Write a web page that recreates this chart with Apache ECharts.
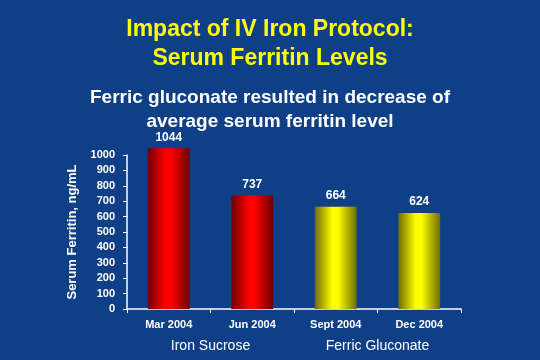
<!DOCTYPE html>
<html><head><meta charset="utf-8">
<script src="https://cdn.jsdelivr.net/npm/echarts@6/dist/echarts.min.js"></script>
<style>html,body{margin:0;padding:0;background:#0f4087;}#c{width:540px;height:360px;}</style>
</head><body><div id="c"></div>
<script>
const categories = ['Mar 2004', 'Jun 2004', 'Sept 2004', 'Dec 2004'];
const ferritin = [1044, 737, 664, 624];
const groups = ['Iron Sucrose', 'Ferric Gluconate'];
const groupOfBar = [0, 0, 1, 1];

const FONT = '"Liberation Sans", Arial, sans-serif';
function grad(dark, bright) {
  return new echarts.graphic.LinearGradient(0, 0, 1, 0, [
    {offset: 0, color: dark}, {offset: 0.42, color: bright}, {offset: 0.55, color: bright}, {offset: 1, color: dark}
  ]);
}
const fills = [grad('#6e0000', '#ff0000'), grad('#6e6e00', '#ffff00')];

const chart = echarts.init(document.getElementById('c'));
chart.setOption({
  backgroundColor: '#0f4087',
  animation: false,
  title: [
    {text: 'Impact of IV Iron Protocol:\nSerum Ferritin Levels', left: 'center', top: 10,
     textStyle: {color: '#ffff00', fontFamily: FONT, fontWeight: 'bold', fontSize: 23, lineHeight: 29,
       textShadowColor: '#000000', textShadowOffsetX: 2, textShadowOffsetY: 2, textShadowBlur: 0}},
    {text: 'Ferric gluconate resulted in decrease of\naverage serum ferritin level', left: 'center', top: 81,
     textStyle: {color: '#ffffff', fontFamily: FONT, fontWeight: 'bold', fontSize: 19, lineHeight: 24}}
  ],
  grid: {left: 127, right: 79, top: 155, bottom: 51},
  xAxis: [
    {type: 'category', data: categories, position: 'bottom',
     axisLine: {lineStyle: {color: '#ffffff', width: 1.5}},
     axisTick: {show: true, length: 4, lineStyle: {color: '#ffffff'}},
     axisLabel: {color: '#ffffff', fontFamily: FONT, fontWeight: 'bold', fontSize: 11, margin: 10}},
    {type: 'category', data: groups, position: 'bottom', offset: 24,
     axisLine: {show: false}, axisTick: {show: false},
     axisLabel: {color: '#ffffff', fontFamily: FONT, fontSize: 14, margin: 6}}
  ],
  yAxis: {type: 'value', min: 0, max: 1000, interval: 100,
    name: 'Serum Ferritin, ng/mL', nameLocation: 'middle', nameGap: 48,
    nameTextStyle: {color: '#ffffff', fontFamily: FONT, fontWeight: 'bold', fontSize: 13},
    axisLine: {show: true, lineStyle: {color: '#ffffff', width: 1.5}},
    axisTick: {show: true, length: 4, lineStyle: {color: '#ffffff'}},
    splitLine: {show: false},
    axisLabel: {color: '#ffffff', fontFamily: FONT, fontWeight: 'bold', fontSize: 11, margin: 12,
      formatter: v => String(v)}},
  series: [{
    type: 'bar', xAxisIndex: 0, clip: false, barWidth: '50%',
    data: ferritin.map((v, i) => ({value: v, itemStyle: {color: fills[groupOfBar[i]]}})),
    label: {show: true, position: 'top', distance: 5, color: '#ffffff', fontFamily: FONT, fontWeight: 'bold', fontSize: 12}
  }]
});
</script></body></html>
